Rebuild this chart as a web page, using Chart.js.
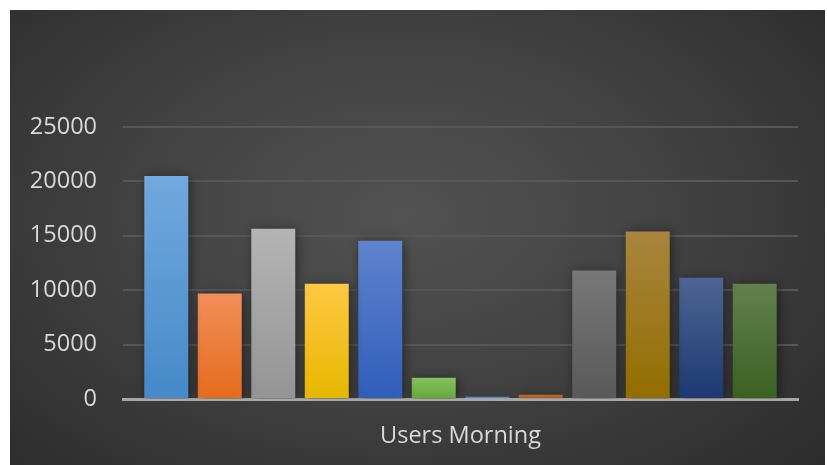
<!DOCTYPE html>
<html>
<head>
<meta charset="utf-8">
<script src="https://cdn.jsdelivr.net/npm/chart.js@4/dist/chart.umd.min.js"></script>
<style>
  html, body { margin: 0; padding: 0; background: #fff; }
  #frame {
    position: absolute; left: 10px; top: 10px; width: 815px; height: 455px;
    background: radial-gradient(ellipse 70% 80% at 48% 45%, #525252 0%, #434343 45%, #2c2c2c 100%);
  }
</style>
</head>
<body>
<div id="frame"><canvas id="chart" width="815" height="455"></canvas></div>
<script>
// One category, twelve series (one bar each).
const categories = ["Users Morning"];
const seriesNames = ["S1", "S2", "S3", "S4", "S5", "S6", "S7", "S8", "S9", "S10", "S11", "S12"];
const seriesValues = [20500, 9700, 15650, 10600, 14550, 1950, 210, 400, 11800, 15400, 11150, 10600];
const yTicks = [0, 5000, 10000, 15000, 20000, 25000];

// Bar colours, light at the top, darker at the base.
const topColors = ["#72a9de", "#f28e5a", "#b4b4b4", "#ffc843", "#5f84ce", "#86c160", "#5a91c8", "#c76a32", "#787878", "#a9853f", "#4f6494", "#62814f"];
const bottomColors = ["#4589c8", "#e46b1b", "#949494", "#e7b700", "#2f5eb9", "#64a739", "#3f77ad", "#a9501b", "#595959", "#936d00", "#1d3971", "#3a6121"];

// Gradient running over the height of each bar.
function barGradient(ctx, i) {
  const chart = ctx.chart;
  const y = chart.scales.y;
  if (!y) return bottomColors[i];
  const top = y.getPixelForValue(seriesValues[i]);
  const base = y.getPixelForValue(0);
  if (!isFinite(top) || !isFinite(base) || top === base) return bottomColors[i];
  const g = chart.ctx.createLinearGradient(0, top, 0, base);
  g.addColorStop(0, topColors[i]);
  g.addColorStop(1, bottomColors[i]);
  return g;
}

const datasets = seriesNames.map((name, i) => ({
  label: name,
  data: [seriesValues[i]],
  backgroundColor: ctx => barGradient(ctx, i),
  borderWidth: 0,
  categoryPercentage: 0.951,
  barPercentage: 0.822
}));

// Soft shadow behind the bars.
const barShadow = {
  id: "barShadow",
  beforeDatasetsDraw(chart) {
    const c = chart.ctx;
    c.save();
    c.shadowColor = "rgba(0,0,0,0.45)";
    c.shadowBlur = 10;
    c.shadowOffsetX = 2;
    c.shadowOffsetY = 1;
  },
  afterDatasetsDraw(chart) {
    chart.ctx.restore();
  }
};

const font = { family: "'Open Sans', sans-serif", size: 23.5 };

new Chart(document.getElementById("chart"), {
  type: "bar",
  data: { labels: categories, datasets: datasets },
  plugins: [barShadow],
  options: {
    responsive: false,
    animation: false,
    layout: { padding: { top: 117, right: 27, left: 0, bottom: 0 } },
    plugins: { legend: { display: false }, tooltip: { enabled: false } },
    scales: {
      x: {
        grid: { display: false, drawTicks: false },
        border: { display: true, color: "#a8a8a8", width: 3 },
        ticks: { color: "#d9d9d9", font: font, padding: 23 },
        afterFit: s => { s.height = 66; }
      },
      y: {
        min: 0,
        max: 25000,
        afterBuildTicks: s => { s.ticks = yTicks.map(v => ({ value: v })); },
        grid: {
          color: c => c.tick && c.tick.value === 0 ? "rgba(0,0,0,0)" : "#575757",
          lineWidth: 2,
          drawTicks: false
        },
        border: { display: false },
        ticks: { color: "#d9d9d9", font: font, padding: 26, callback: v => String(v) },
        afterFit: s => { s.width = 113; }
      }
    }
  }
});
</script>
</body>
</html>
